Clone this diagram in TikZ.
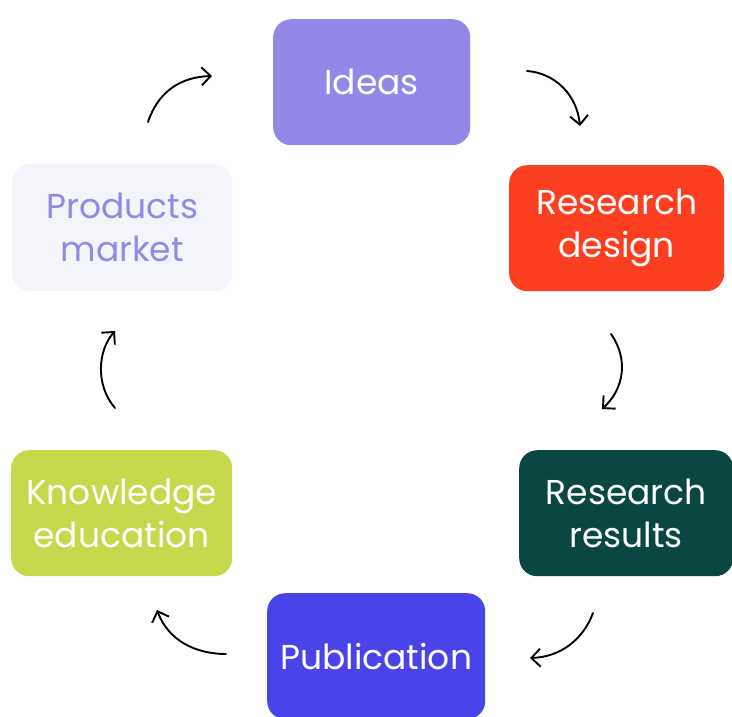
\documentclass[tikz,border=0pt]{standalone}
\usepackage{fontspec}
\setmainfont{Poppins}
\usetikzlibrary{arrows.meta}
\definecolor{ideasC}{HTML}{9388E8}
\definecolor{designC}{HTML}{FC3F20}
\definecolor{resultsC}{HTML}{0A4741}
\definecolor{pubC}{HTML}{4944EA}
\definecolor{knowC}{HTML}{C8D84C}
\definecolor{prodC}{HTML}{F4F4FB}
\begin{document}
\begin{tikzpicture}[x=1pt,y=-1pt,
  stagebox/.style={rounded corners=18pt, inner sep=0pt, anchor=north west,
    font=\fontsize{34.5}{43}\selectfont, align=center, text=white},
  cyclearrow/.style={line width=1.9pt, line cap=round,
    -{Straight Barb[length=9pt,width=18pt,line width=1.9pt]}}]
\useasboundingbox (0,0) rectangle (732,716);
\begin{scope}
\clip (0,0) rectangle (732,716);
\node[stagebox, fill=ideasC, minimum width=197pt, minimum height=126pt] (ideas) at (273,19) {Ideas};
\node[stagebox, fill=designC, minimum width=215pt, minimum height=126pt] (design) at (509,165) {Research\\design};
\node[stagebox, fill=resultsC, minimum width=214pt, minimum height=126pt] (results) at (519,450) {Research\\results};
\node[stagebox, fill=pubC, minimum width=218pt, minimum height=126pt] (pub) at (267,593) {Publication};
\node[stagebox, fill=knowC, minimum width=221pt, minimum height=126pt] (know) at (11,450) {Knowledge\\education};
\node[stagebox, fill=prodC, text=ideasC, minimum width=220pt, minimum height=127pt] (prod) at (12,164) {Products\\market};
\end{scope}
% arrow end points between the stages
\coordinate (a1s) at (148,122); \coordinate (a1e) at (212,76);
\coordinate (a2s) at (527,71);  \coordinate (a2e) at (580,126);
\coordinate (a3s) at (611,334); \coordinate (a3e) at (602,409);
\coordinate (a4s) at (593,613); \coordinate (a4e) at (530,658);
\coordinate (a5s) at (226,654); \coordinate (a5e) at (157,610);
\coordinate (a6s) at (115,408); \coordinate (a6e) at (115,331);
\draw[cyclearrow] (a1s) .. controls (158,92) and (180,77) .. (a1e);
\draw[cyclearrow] (a2s) .. controls (555,73) and (577,95) .. (a2e);
\draw[cyclearrow] (a3s) .. controls (628,358) and (625,388) .. (a3e);
\draw[cyclearrow] (a4s) .. controls (583,640) and (560,657) .. (a4e);
\draw[cyclearrow] (a5s) .. controls (195,654) and (168,640) .. (a5e);
\draw[cyclearrow] (a6s) .. controls (95,385) and (98,350) .. (a6e);
\end{tikzpicture}
\end{document}
